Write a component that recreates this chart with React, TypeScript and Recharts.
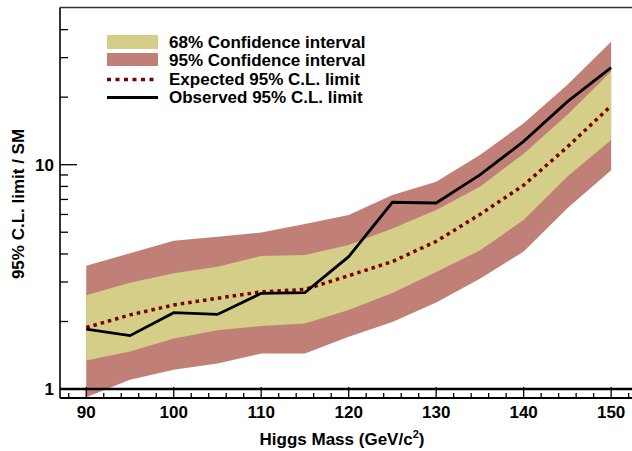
import React from "react";
import {
  ComposedChart,
  Area,
  Line,
  XAxis,
  YAxis,
  ReferenceLine,
} from "recharts";

// ---------- data ----------
const masses = [90, 95, 100, 105, 110, 115, 120, 125, 130, 135, 140, 145, 150];
const observed = [1.85, 1.73, 2.19, 2.15, 2.67, 2.69, 3.89, 6.8, 6.75, 9.0, 12.7, 19.1, 27.1];
const expected = [1.88, 2.14, 2.37, 2.54, 2.71, 2.78, 3.2, 3.7, 4.55, 6.0, 8.1, 12.0, 18.3];
const band68Low = [1.34, 1.47, 1.68, 1.83, 1.91, 1.96, 2.25, 2.68, 3.32, 4.15, 5.67, 8.85, 12.9];
const band68High = [2.62, 2.98, 3.28, 3.51, 3.92, 3.96, 4.39, 5.2, 6.28, 7.98, 11.2, 16.7, 26.0];
const band95Low = [0.92, 1.1, 1.22, 1.3, 1.44, 1.44, 1.71, 1.99, 2.43, 3.1, 4.1, 6.4, 9.45];
const band95High = [3.54, 4.03, 4.58, 4.77, 4.98, 5.44, 5.97, 7.33, 8.4, 11.05, 15.3, 22.7, 35.3];

const xTicks = [88, 90, 92, 94, 96, 98, 100, 102, 104, 106, 108, 110, 112, 114, 116, 118, 120, 122, 124, 126, 128, 130, 132, 134, 136, 138, 140, 142, 144, 146, 148, 150, 152];
const xMajor = [90, 100, 110, 120, 130, 140, 150];
const yTicks = [1, 2, 3, 4, 5, 6, 7, 8, 9, 10, 20, 30, 40];
const yMajor = [1, 10];

const legendLabels = [
  "68% Confidence interval",
  "95% Confidence interval",
  "Expected 95% C.L. limit",
  "Observed 95% C.L. limit",
];
const xTitle = "Higgs Mass (GeV/c";
const yTitle = "95% C.L. limit / SM";

const xDomain = [87, 153.3];
const yDomain = [0.912, 50.2];

const C68 = "#d4ce88";
const C95 = "#c08078";
const CEXP = "#7a0000";
const FONT = "'Liberation Sans', Arial, Helvetica, sans-serif";

const data = masses.map((m, i) => ({
  mass: m,
  band95: [band95Low[i], band95High[i]],
  band68: [band68Low[i], band68High[i]],
  expected: expected[i],
  observed: observed[i],
}));

const XTick = (props: any) => {
  const { x, y, payload } = props;
  const major = xMajor.includes(payload.value);
  return (
    <g>
      <line x1={x} x2={x} y1={y} y2={y - (major ? 11 : 5)} stroke="#000" strokeWidth={1.3} />
      {major && (
        <text x={x} y={y + 20} textAnchor="middle" fontFamily={FONT} fontWeight="bold" fontSize={17} fill="#000">
          {payload.value}
        </text>
      )}
    </g>
  );
};

const YTick = (props: any) => {
  const { x, y, payload } = props;
  const major = yMajor.includes(payload.value);
  return (
    <g>
      <line x1={x} x2={x + (major ? 17 : 8)} y1={y} y2={y} stroke="#000" strokeWidth={1.3} />
      {major && (
        <text x={x - 6} y={y + 6} textAnchor="end" fontFamily={FONT} fontWeight="bold" fontSize={17} fill="#000">
          {payload.value}
        </text>
      )}
    </g>
  );
};

export default function App() {
  return (
    <div style={{ position: "absolute", left: 0, top: 0, width: 632, height: 451, overflow: "hidden", background: "#fff" }}>
      <ComposedChart
        width={640}
        height={451}
        data={data}
        margin={{ top: 7.5, right: 0, bottom: 0, left: 0 }}
      >
        <XAxis
          dataKey="mass"
          type="number"
          domain={xDomain}
          ticks={xTicks}
          interval={0}
          allowDataOverflow
          height={53}
          tickSize={0}
          tickMargin={0}
          tickLine={false}
          tick={<XTick />}
          axisLine={{ stroke: "#000", strokeWidth: 2 }}
        />
        <YAxis
          type="number"
          scale="log"
          domain={yDomain}
          ticks={yTicks}
          interval={0}
          allowDataOverflow
          width={60}
          tickSize={0}
          tickMargin={0}
          tickLine={false}
          tick={<YTick />}
          axisLine={{ stroke: "#000", strokeWidth: 1.6 }}
        />
        <Area dataKey="band95" type="linear" stroke="none" fill={C95} fillOpacity={1} isAnimationActive={false} />
        <Area dataKey="band68" type="linear" stroke="none" fill={C68} fillOpacity={1} isAnimationActive={false} />
        <Line dataKey="expected" type="linear" stroke={CEXP} strokeWidth={3.5} strokeDasharray="3.5 4" dot={false} isAnimationActive={false} />
        <Line dataKey="observed" type="linear" stroke="#000" strokeWidth={2.8} dot={false} isAnimationActive={false} />
        <ReferenceLine y={1} stroke="#000" strokeWidth={2.5} />
        <ReferenceLine y={yDomain[1]} stroke="#333" strokeWidth={1.6} />
      </ComposedChart>
      <svg width={632} height={451} style={{ position: "absolute", left: 0, top: 0, pointerEvents: "none" }}>
        <g fontFamily={FONT} fontWeight="bold" fontSize={17} fill="#000">
          <rect x={107} y={35} width={51} height={14} fill={C68} />
          <rect x={107} y={53} width={51} height={13} fill={C95} />
          <line x1={107} x2={158} y1={79.5} y2={79.5} stroke={CEXP} strokeWidth={3.5} strokeDasharray="4 4.5" />
          <line x1={107} x2={158} y1={97.5} y2={97.5} stroke="#000" strokeWidth={2.8} />
          <text x={169} y={48}>{legendLabels[0]}</text>
          <text x={169} y={66.3}>{legendLabels[1]}</text>
          <text x={169} y={84.6}>{legendLabels[2]}</text>
          <text x={169} y={103}>{legendLabels[3]}</text>
          <text x={342} y={445} textAnchor="middle">
            {xTitle}
            <tspan fontSize={11} dy={-7}>2</tspan>
            <tspan dy={7}>)</tspan>
          </text>
          <text transform="translate(24,204) rotate(-90)" textAnchor="middle">{yTitle}</text>
        </g>
      </svg>
    </div>
  );
}
